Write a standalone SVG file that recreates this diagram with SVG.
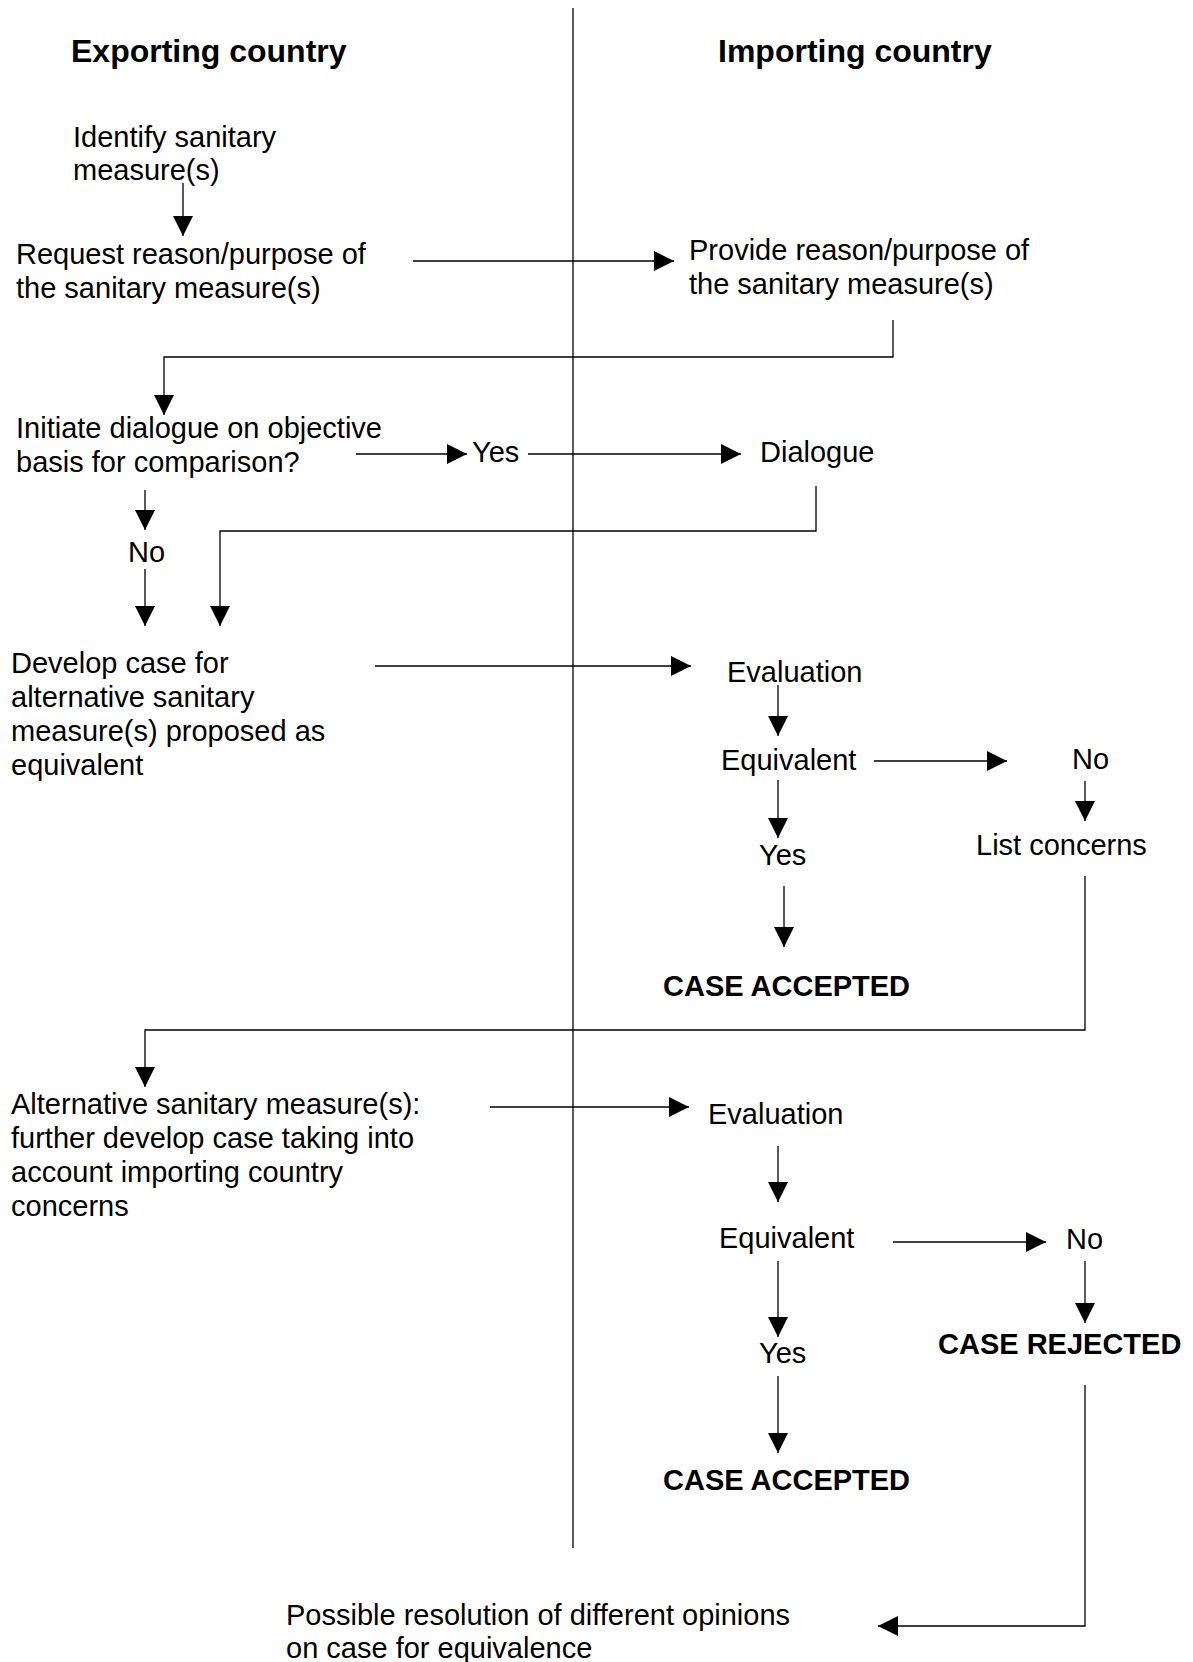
<svg xmlns="http://www.w3.org/2000/svg" width="1193" height="1662" viewBox="0 0 1193 1662">
<style>
text{font-family:"Liberation Sans",Arial,sans-serif;font-size:29px;fill:#000}
.h{font-size:32px;font-weight:bold}
.b{font-weight:bold}
.c{fill:none;stroke:#000;stroke-width:1.3}
</style>
<defs>
<marker id="a" markerUnits="userSpaceOnUse" markerWidth="22" markerHeight="22" refX="20" refY="10" orient="auto">
<path d="M0,0 L20,10 L0,20 Z" fill="#000"/>
</marker>
</defs>
<rect width="1193" height="1662" fill="#fff"/>
<line x1="573" y1="8" x2="573" y2="1548" stroke="#000" stroke-width="1.3"/>
<g id="hdr-exp"><text class="h" x="71" y="62">Exporting country</text></g>
<g id="hdr-imp"><text class="h" x="718" y="62">Importing country</text></g>
<g id="n-identify"><text x="73" y="147">Identify sanitary</text><text x="73" y="180">measure(s)</text></g>
<g id="n-request"><text x="16" y="264">Request reason/purpose of</text><text x="16" y="298">the sanitary measure(s)</text></g>
<g id="n-provide"><text x="689" y="260">Provide reason/purpose of</text><text x="689" y="294">the sanitary measure(s)</text></g>
<g id="n-initiate"><text x="16" y="438">Initiate dialogue on objective</text><text x="16" y="472">basis for comparison?</text></g>
<g id="n-yes1"><text x="472" y="462">Yes</text></g>
<g id="n-dialogue"><text x="760" y="462">Dialogue</text></g>
<g id="n-no1"><text x="128" y="562">No</text></g>
<g id="n-develop"><text x="11" y="673">Develop case for</text><text x="11" y="707">alternative sanitary</text><text x="11" y="741">measure(s) proposed as</text><text x="11" y="775">equivalent</text></g>
<g id="n-eval1"><text x="727" y="682">Evaluation</text></g>
<g id="n-equiv1"><text x="721" y="770">Equivalent</text></g>
<g id="n-no2"><text x="1072" y="769">No</text></g>
<g id="n-list"><text x="976" y="855">List concerns</text></g>
<g id="n-yes2"><text x="759" y="865">Yes</text></g>
<g id="n-acc1"><text class="b" x="663" y="996">CASE ACCEPTED</text></g>
<g id="n-alt"><text x="11" y="1114">Alternative sanitary measure(s):</text><text x="11" y="1148">further develop case taking into</text><text x="11" y="1182">account importing country</text><text x="11" y="1216">concerns</text></g>
<g id="n-eval2"><text x="708" y="1124">Evaluation</text></g>
<g id="n-equiv2"><text x="719" y="1248">Equivalent</text></g>
<g id="n-no3"><text x="1066" y="1249">No</text></g>
<g id="n-rej"><text class="b" x="938" y="1354">CASE REJECTED</text></g>
<g id="n-yes3"><text x="759" y="1363">Yes</text></g>
<g id="n-acc2"><text class="b" x="663" y="1490">CASE ACCEPTED</text></g>
<g id="n-resolve"><text x="286" y="1625">Possible resolution of different opinions</text><text x="286" y="1658">on case for equivalence</text></g>
<g id="connectors">
<path class="c" d="M183,183 V236" marker-end="url(#a)"/>
<path class="c" d="M413,261 H674" marker-end="url(#a)"/>
<path class="c" d="M893,320 V357 H164 V415" marker-end="url(#a)"/>
<path class="c" d="M356,454 H467" marker-end="url(#a)"/>
<path class="c" d="M528,454 H741" marker-end="url(#a)"/>
<path class="c" d="M816,486 V531 H220 V626" marker-end="url(#a)"/>
<path class="c" d="M145,490 V530" marker-end="url(#a)"/>
<path class="c" d="M145,569 V626" marker-end="url(#a)"/>
<path class="c" d="M375,666 H691" marker-end="url(#a)"/>
<path class="c" d="M778,685 V736" marker-end="url(#a)"/>
<path class="c" d="M874,761 H1007" marker-end="url(#a)"/>
<path class="c" d="M1085,781 V821" marker-end="url(#a)"/>
<path class="c" d="M778,780 V838" marker-end="url(#a)"/>
<path class="c" d="M784,886 V947" marker-end="url(#a)"/>
<path class="c" d="M1085,876 V1030 H145 V1087" marker-end="url(#a)"/>
<path class="c" d="M490,1107 H689" marker-end="url(#a)"/>
<path class="c" d="M778,1146 V1202" marker-end="url(#a)"/>
<path class="c" d="M893,1242 H1046" marker-end="url(#a)"/>
<path class="c" d="M1085,1261 V1323" marker-end="url(#a)"/>
<path class="c" d="M778,1261 V1337" marker-end="url(#a)"/>
<path class="c" d="M778,1376 V1453" marker-end="url(#a)"/>
<path class="c" d="M1085,1385 V1626 H878" marker-end="url(#a)"/>
</g>
</svg>
